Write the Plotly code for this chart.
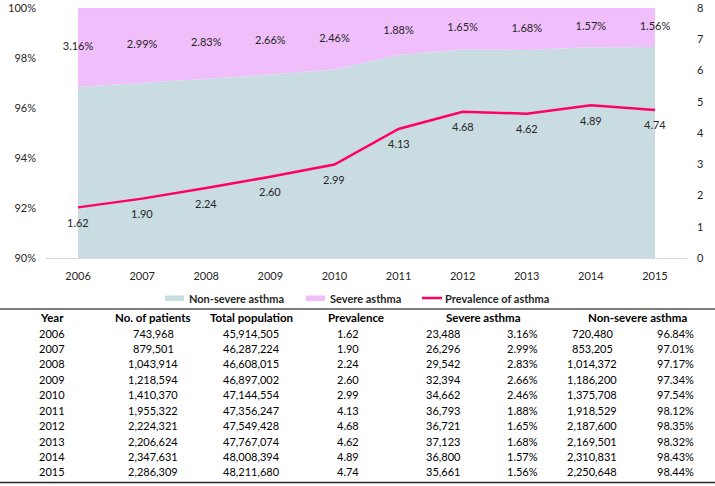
import plotly.graph_objects as go

# ---------------- data ----------------
years = ["2006", "2007", "2008", "2009", "2010", "2011", "2012", "2013", "2014", "2015"]
prevalence = [1.62, 1.90, 2.24, 2.60, 2.99, 4.13, 4.68, 4.62, 4.89, 4.74]
severe_pct = [3.16, 2.99, 2.83, 2.66, 2.46, 1.88, 1.65, 1.68, 1.57, 1.56]
nonsevere_pct = [96.84, 97.01, 97.17, 97.34, 97.54, 98.12, 98.35, 98.32, 98.43, 98.44]
patients = ["743,968", "879,501", "1,043,914", "1,218,594", "1,410,370",
            "1,955,322", "2,224,321", "2,206,624", "2,347,631", "2,286,309"]
population = ["45,914,505", "46,287,224", "46,608,015", "46,897,002", "47,144,554",
              "47,356,247", "47,549,428", "47,767,074", "48,008,394", "48,211,680"]
severe_n = ["23,488", "26,296", "29,542", "32,394", "34,662",
            "36,793", "36,721", "37,123", "36,800", "35,661"]
nonsevere_n = ["720,480", "853,205", "1,014,372", "1,186,200", "1,375,708",
               "1,918,529", "2,187,600", "2,169,501", "2,310,831", "2,250,648"]
left_ticks = [90, 92, 94, 96, 98, 100]
right_ticks = [0, 1, 2, 3, 4, 5, 6, 7, 8]
series_names = ["Non-severe asthma", "Severe asthma", "Prevalence of asthma"]
table_headers = ["Year", "No. of patients", "Total population", "Prevalence",
                 "Severe asthma", "Non-severe asthma"]

# ---------------- style ----------------
C_NON = "#C9DCE2"
C_SEV = "#F0BEFA"
C_LINE = "#FF0066"
FONT = "Lato"
TXT = "#262626"

W, H = 715, 486
L, R, T, B = 46, 28, 8, 228
PW, PH = W - L - R, H - T - B


def px_x(x):
    return (x - L) / PW


def px_y(y):
    return 1 - (y - T) / PH


fig = go.Figure()

fig.add_trace(go.Scatter(x=years, y=nonsevere_pct, stackgroup="one", mode="none",
                         fillcolor=C_NON, name=series_names[0], showlegend=False))
fig.add_trace(go.Scatter(x=years, y=severe_pct, stackgroup="one", mode="none",
                         fillcolor=C_SEV, name=series_names[1], showlegend=False))

# severe % labels at the middle of the severe band
sev_mid = [n + s / 2 for n, s in zip(nonsevere_pct, severe_pct)]
fig.add_trace(go.Scatter(x=years, y=sev_mid, mode="text",
                         text=[f"{v:.2f}%" for v in severe_pct],
                         textfont=dict(family=FONT, size=11, color=TXT),
                         showlegend=False, hoverinfo="skip"))

fig.add_trace(go.Scatter(x=years, y=prevalence, yaxis="y2", mode="lines",
                         line=dict(color=C_LINE, width=2.5),
                         name=series_names[2], showlegend=False))

annotations = []
for i, p in enumerate(prevalence):
    annotations.append(dict(x=i, y=p, xref="x", yref="y2", text=f"{p:.2f}",
                            showarrow=False, yshift=-15,
                            font=dict(family=FONT, size=11, color=TXT)))

# ---------------- legend (manual) ----------------
shapes = []
leg_y = 298
shapes.append(dict(type="rect", xref="paper", yref="paper",
                   x0=px_x(165), x1=px_x(184), y0=px_y(295.5), y1=px_y(301),
                   fillcolor=C_NON, line=dict(width=0)))
shapes.append(dict(type="rect", xref="paper", yref="paper",
                   x0=px_x(306), x1=px_x(325), y0=px_y(295.5), y1=px_y(301),
                   fillcolor=C_SEV, line=dict(width=0)))
shapes.append(dict(type="line", xref="paper", yref="paper",
                   x0=px_x(422), x1=px_x(442), y0=px_y(leg_y), y1=px_y(leg_y),
                   line=dict(color=C_LINE, width=2.5)))
for xs, name in zip([187, 328, 443], series_names):
    annotations.append(dict(x=px_x(xs), y=px_y(leg_y), xref="paper", yref="paper",
                            xanchor="left", yanchor="middle", showarrow=False,
                            text=f"<b>{name}</b>",
                            font=dict(family=FONT, size=11, color=TXT)))

# ---------------- table ----------------
shapes.append(dict(type="line", xref="paper", yref="paper",
                   x0=px_x(0), x1=px_x(715), y0=px_y(309), y1=px_y(309),
                   line=dict(color="#7F7F7F", width=2)))
shapes.append(dict(type="line", xref="paper", yref="paper",
                   x0=px_x(0), x1=px_x(715), y0=px_y(482.5), y1=px_y(482.5),
                   line=dict(color="#262626", width=1.5)))

header_x = [52, 153, 251, 356, 483, 637]
for hx, h in zip(header_x, table_headers):
    annotations.append(dict(x=px_x(hx), y=px_y(317.5), xref="paper", yref="paper",
                            xanchor="center", yanchor="middle", showarrow=False,
                            text=f"<b>{h}</b>",
                            font=dict(family=FONT, size=11.5, color="#000000")))

col_x = [52, 153, 251, 348, 443, 522, 592, 675]
for i, yr in enumerate(years):
    ry = 333 + i * 15.44
    vals = [yr, patients[i], population[i], f"{prevalence[i]:.2f}",
            severe_n[i], f"{severe_pct[i]:.2f}%", nonsevere_n[i], f"{nonsevere_pct[i]:.2f}%"]
    for cx, v in zip(col_x, vals):
        annotations.append(dict(x=px_x(cx), y=px_y(ry), xref="paper", yref="paper",
                                xanchor="center", yanchor="middle", showarrow=False,
                                text=v, font=dict(family=FONT, size=11, color="#000000")))

fig.update_layout(
    width=W, height=H,
    margin=dict(l=L, r=R, t=T, b=B, autoexpand=False),
    paper_bgcolor="white", plot_bgcolor="white",
    showlegend=False,
    font=dict(family=FONT, size=11, color=TXT),
    xaxis=dict(type="category", range=[-0.5, 9.5], showgrid=False, zeroline=False,
               automargin=False,
               showline=True, linecolor="#D9D9D9", linewidth=1, ticks="",
               ticklabelstandoff=8, tickfont=dict(family=FONT, size=11, color=TXT)),
    yaxis=dict(range=[90, 100], tickvals=left_ticks, ticktext=[f"{v}%" for v in left_ticks],
               automargin=False, ticklabeloverflow="allow",
               showgrid=False, zeroline=False, showline=False, ticks="",
               ticklabelstandoff=9, tickfont=dict(family=FONT, size=11, color=TXT)),
    yaxis2=dict(range=[0, 8], tickvals=right_ticks, overlaying="y", side="right",
                automargin=False, ticklabeloverflow="allow",
                showgrid=False, zeroline=False, showline=False, ticks="",
                ticklabelstandoff=9, tickfont=dict(family=FONT, size=11, color=TXT)),
    shapes=shapes,
    annotations=annotations,
)

fig.write_html("out.html",
               config={"displayModeBar": False},
               post_script="document.body.style.margin='0';document.body.style.padding='0';")
